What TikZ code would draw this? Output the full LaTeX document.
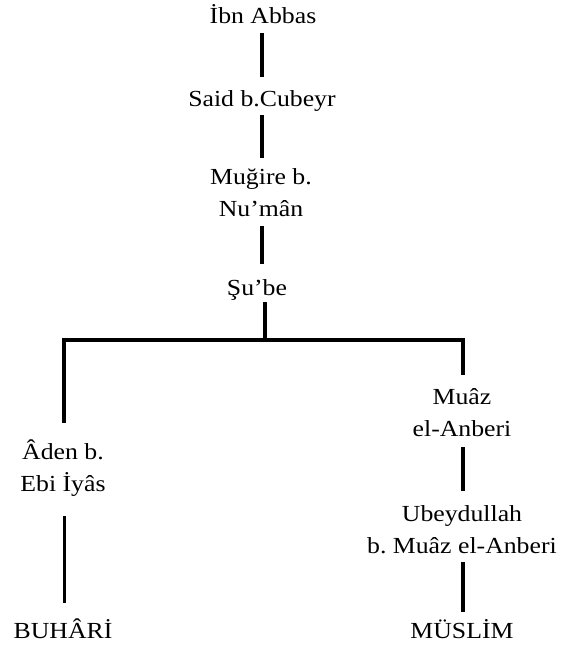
\documentclass[tikz,border=0pt]{standalone}
\usepackage{fontspec}
\setmainfont{Liberation Serif}[FakeStretch=1.12]
\usetikzlibrary{calc}
\begin{document}
\frenchspacing
\begin{tikzpicture}[x=1pt,y=-1pt,
  person/.style={inner sep=0pt,anchor=base,align=center,font=\fontsize{23}{31.5}\selectfont},
  conn/.style={line width=4pt,line cap=butt},
  thinconn/.style={line width=3pt,line cap=butt},
  forkline/.style={line width=3.6pt,line join=miter}]
\useasboundingbox (0,0) rectangle (563,648);
% (multi-line nodes are placed by the baseline of their last line)
\node[person] (ibn) at (263,23) {İbn Abbas};
\node[person] (said) at (262,106) {Said b.Cubeyr};
\node[person] (mug) at (261,216) {Muğire b.\\Nu’mân};
\node[person] (sube) at (257,295) {Şu’be};
\node[person] (muaz) at (462,436) {Muâz\\el-Anberi};
\node[person] (ubey) at (462,553) {Ubeydullah\\b. Muâz el-Anberi};
\node[person] (muslim) at (462,638) {MÜSLİM};
\node[person] (aden) at (63,491) {Âden b.\\Ebi İyâs};
\node[person] (buhari) at (63,638) {BUHÂRİ};
\coordinate (forkpt) at (265,340);
% main chain
\draw[conn] ($(ibn.base)+(-1,10)$) -- ($(said.base)+(0,-29)$);
\draw[conn] ($(said.base)+(0,9)$) -- ($(mug.base)+(1,-58)$);
\draw[conn] ($(mug.base)+(1,10)$) -- ($(sube.base)+(5,-31)$);
\draw[conn] ($(sube.base)+(8,7)$) -- (forkpt);
% fork
\draw[forkline] ($(aden.base)+(1,-68)$) |- (forkpt) -| ($(muaz.base)+(1,-61)$);
% right branch
\draw[conn] ($(muaz.base)+(1,11)$) -- ($(ubey.base)+(1,-62)$);
\draw[conn] ($(ubey.base)+(1,9)$) -- ($(muslim.base)+(1,-26)$);
% left branch
\draw[thinconn] ($(aden.base)+(1,25)$) -- ($(buhari.base)+(1,-35)$);
\end{tikzpicture}
\end{document}
